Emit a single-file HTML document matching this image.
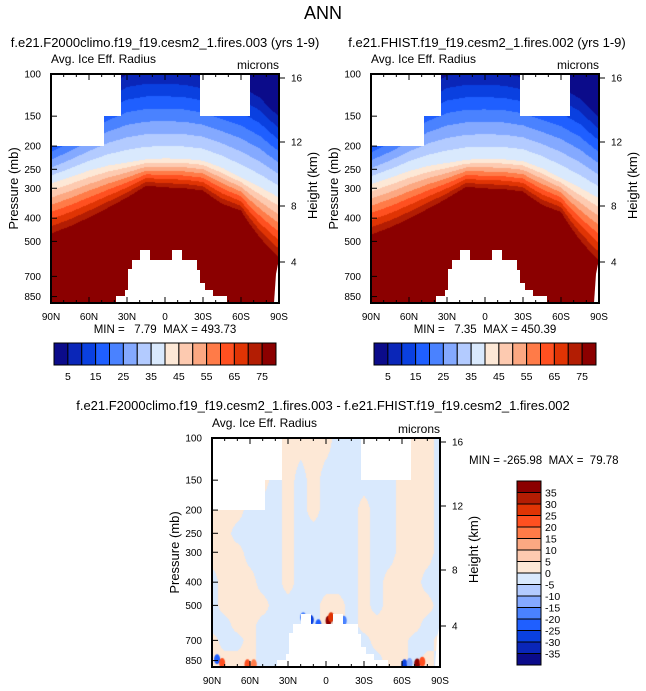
<!DOCTYPE html>
<html><head><meta charset="utf-8"><style>
html,body{margin:0;padding:0;background:#fff;}
#wrap{position:relative;width:646px;height:691px;overflow:hidden;font-family:"Liberation Sans",sans-serif;}
canvas{position:absolute;}
svg{position:absolute;left:0;top:0;}
svg text{white-space:pre;}
</style></head><body>
<div id="wrap">
<canvas id="c1" width="228" height="229" style="left:51px;top:74px"></canvas>
<canvas id="c2" width="228" height="229" style="left:371px;top:74px"></canvas>
<canvas id="c3" width="228" height="229" style="left:212px;top:438px"></canvas>
<svg id="s" width="646" height="691"></svg>
</div>
<script>
// ---- data ----
const lats13 = [90,75,60,45,30,15,0,-15,-30,-45,-60,-75,-90];
const p5A  = [167,150,130,112,100,97,97,98,102,108,112,125,150];
const p40A = [285,268,252,240,233,226,224,225,229,245,269,295,326];
const p75A = [461,430,395,360,326,291,296,298,305,346,370,480,580];
const p5B  = [168,151,131,113,101,98,98,99,103,109,113,126,151];
const p40B = [287,270,253,241,234,227,225,226,230,246,270,297,328];
const p75B = [466,435,400,363,329,294,299,301,308,350,375,490,600];
const lats19 = [90,80,70,60,50,40,30,20,10,0,-10,-20,-30,-40,-50,-60,-70,-80,-90];
const presRows = [100,150,200,250,300,400,500,600,700,850];
const diffSign = [
[1,1,1,1,1,1,1,1,1,1,0,0,0,0,0,0,1,1,0],
[1,1,1,1,1,0,1,0,1,0,0,0,0,0,0,1,1,1,0],
[1,1,1,0,0,0,1,0,1,0,0,0,1,0,0,1,1,1,0],
[1,1,0,0,0,0,1,0,0,0,0,0,1,0,0,1,1,1,0],
[1,1,1,0,0,0,1,0,0,0,0,0,1,0,0,1,1,1,0],
[0,1,1,1,0,0,1,0,0,0,0,0,1,0,1,1,1,0,0],
[0,1,1,1,1,0,0,0,0,1,1,0,1,0,1,1,1,1,0],
[0,0,1,1,0,0,0,0,0,1,1,0,1,1,1,1,1,0,0],
[1,0,0,1,0,0,0,0,0,0,0,0,0,1,1,1,0,0,1],
[1,1,1,1,0,0,0,0,0,0,0,0,0,0,1,1,0,1,0]];
const spotLat = [-2,-4,12,18,-8,-14,6,86,82,62,57,-62,-72,-76,-66];
const spotP   = [580,560,575,560,590,580,600,840,870,880,880,880,875,860,870];
const spotVal = [38,25,-30,-20,-35,-20,-25,-25,20,22,15,-30,38,22,-12];
const cbLabelsTop = [5,15,25,35,45,55,65,75];
const cbLabelsDiff = [35,30,25,20,15,10,5,0,-5,-10,-15,-20,-25,-30,-35];
const pTicks = [100,150,200,250,300,400,500,700,850];
const hTicks = [16,12,8,4];
const hTickPx = {16:4,12:68,8:132,4:188};
const latLabels = ['90N','60N','30N','0','30S','60S','90S'];
const colors=['#0b0b8a','#0a26b8','#0a40e0','#1f5fff','#4a82ff','#84a9ff','#b3cbff','#d9e9fd','#fde8d6','#fdcab0','#fca882','#ff7b48','#ff5020','#e03404','#b31d03','#8b0000'];

// ---- scales ----
const W=228,H=229;
function yOf(p){return 104*Math.log(p/100);}
function xOfLat(l){return (90-l)/180*W;}
function interp(arr,lats,lat){
  for(let i=0;i<lats.length-1;i++){
    if(lat<=lats[i]&&lat>=lats[i+1]){const t=(lats[i]-lat)/(lats[i]-lats[i+1]);return arr[i]+(arr[i+1]-arr[i])*t;}
  }
  return arr[arr.length-1];
}
function drawTop(id,p5,p40,p75){
  const ctx=document.getElementById(id).getContext('2d');
  for(let x=0;x<W;x++){
    const lat=90-180*(x+0.5)/W;
    const y5=yOf(interp(p5,lats13,lat)),y40=yOf(interp(p40,lats13,lat)),y75=yOf(interp(p75,lats13,lat));
    for(let y=0;y<H;y++){
      let v;
      if(y<y40)v=5+35*(y-y5)/(y40-y5);else if(y<y75)v=40+35*(y-y40)/(y75-y40);else v=80;
      const idx=Math.max(0,Math.min(15,Math.floor(v/5)));
      ctx.fillStyle=colors[idx];ctx.fillRect(x,y,1,1);
    }
  }
}
drawTop('c1',p5A,p40A,p75A);
drawTop('c2',p5B,p40B,p75B);
(function(){
  const ctx=document.getElementById('c3').getContext('2d');
  const rowY=presRows.map(yOf);
  for(let x=0;x<W;x++){
    const lat=90-180*(x+0.5)/W;
    const col=diffSign.map(r=>interp(r,lats19,lat));
    for(let y=0;y<H;y++){
      let v;
      if(y<=rowY[0])v=col[0];else if(y>=rowY[rowY.length-1])v=col[col.length-1];
      else{for(let k=0;k<rowY.length-1;k++){if(y>=rowY[k]&&y<rowY[k+1]){const t=(y-rowY[k])/(rowY[k+1]-rowY[k]);v=col[k]+(col[k+1]-col[k])*t;break;}}}
      ctx.fillStyle=v>=0.5?colors[8]:colors[7];ctx.fillRect(x,y,1,1);
    }
  }
  for(let i=0;i<spotLat.length;i++){
    const idx=Math.max(0,Math.min(15,Math.floor(spotVal[i]/5)+8));
    ctx.fillStyle=colors[idx];
    ctx.beginPath();ctx.ellipse(xOfLat(spotLat[i]),yOf(spotP[i]),3,5,0,0,Math.PI*2);ctx.fill();
  }
})();

// ---- svg ----
const NS='http://www.w3.org/2000/svg';
const svg=document.getElementById('s');
function el(tag,attrs,parent){const e=document.createElementNS(NS,tag);for(const k in attrs)e.setAttribute(k,attrs[k]);(parent||svg).appendChild(e);return e;}
function txt(s,attrs,parent){const e=el('text',attrs,parent);e.textContent=s;return e;}

const t0=txt('ANN',{x:323,y:19,'font-size':18,'text-anchor':'middle'});


const maskPolys=[
 '0,0 53,0 53,72 0,72','53,0 70,0 70,42 53,42','149,0 199,0 199,42 149,42',
 '65,229 65,222 74,222 74,216 77,216 77,195 81,195 81,186 89,186 89,176 99,176 99,186 121,186 121,176 131,176 131,186 146,186 146,196 149,196 149,209 154,209 154,216 162,216 162,222 176,222 176,229',
 '228,185 225,200 223,229 228,229'];

function panel(ox,oy,name,title,tx,ty,minmax){
  const g=el('g',{transform:`translate(${ox},${oy})`});
  
  maskPolys.forEach(pt=>{const m=el('polygon',{points:pt,fill:'#fff'},g);});
  const fr=el('rect',{x:0,y:0,width:W,height:H,fill:'none',stroke:'#000','stroke-width':2},g);
  
  for(let l=90;l>=-90;l-=10){
    const x=xOfLat(l),len=(l%30===0)?6:3;
    el('line',{x1:x,y1:0,x2:x,y2:len,stroke:'#000','stroke-width':1},g);
    el('line',{x1:x,y1:H,x2:x,y2:H-len,stroke:'#000','stroke-width':1},g);
  }
  latLabels.forEach((s,i)=>{const t=txt(s,{x:i*38,y:H+17,'font-size':10,'text-anchor':'middle'},g);});
  pTicks.forEach(p=>{
    const y=yOf(p);el('line',{x1:0,y1:y,x2:6,y2:y,stroke:'#000','stroke-width':1},g);
    const t=txt(String(p),{x:-10,y:y+3.5,'font-size':10,'text-anchor':'end'},g);
  });
  hTicks.forEach(h=>{
    const y=hTickPx[h];el('line',{x1:W,y1:y,x2:W+6,y2:y,stroke:'#000','stroke-width':1},g);
    const t=txt(String(h),{x:W+12,y:y+3.5,'font-size':10},g);
  });
  const yl=txt('Pressure (mb)',{x:0,y:0,'font-size':13,'text-anchor':'middle',transform:`translate(-33,${H/2}) rotate(-90)`},g);
  
  const hl=txt('Height (km)',{x:0,y:0,'font-size':13,'text-anchor':'middle',transform:`translate(${W+38},${H/2-3}) rotate(-90)`},g);
  
  const a=txt('Avg. Ice Eff. Radius',{x:0,y:-11,'font-size':12},g);
  const m=txt('microns',{x:W,y:-5,'font-size':12,'text-anchor':'end'},g);
  const tt=txt(title,{x:tx-ox,y:ty-oy,'font-size':13,'text-anchor':'middle'},g);
  if(minmax){const mm=txt(minmax,{x:W/2,y:H+30,'font-size':11.5,'text-anchor':'middle'},g);}
  return g;
}
panel(51,74,'panel-f2000','f.e21.F2000climo.f19_f19.cesm2_1.fires.003 (yrs 1-9)',165,47,'MIN =   7.79  MAX = 493.73');
panel(371,74,'panel-fhist','f.e21.FHIST.f19_f19.cesm2_1.fires.002 (yrs 1-9)',487,47,'MIN =   7.35  MAX = 450.39');
panel(212,438,'panel-difference','f.e21.F2000climo.f19_f19.cesm2_1.fires.003 - f.e21.FHIST.f19_f19.cesm2_1.fires.002',323,410,null);
const mmC=txt('MIN = -265.98  MAX =  79.78',{x:469,y:464,'font-size':11.5});


function hbar(x0,y0,name){
  const g=el('g',{});
  const bw=222/16;
  colors.forEach((c,i)=>{const r=el('rect',{x:x0+i*bw,y:y0,width:bw,height:22,fill:c,stroke:'#000','stroke-width':1},g);});
  cbLabelsTop.forEach((v,i)=>{const t=txt(String(v),{x:x0+(2*i+1)*bw,y:y0+37,'font-size':10.5,'text-anchor':'middle'},g);});
}
hbar(54,343,'colorbar-f2000');
hbar(374,343,'colorbar-fhist');
(function(){
  const g=el('g',{});
  const bh=184/16;
  colors.slice().reverse().forEach((c,i)=>{const r=el('rect',{x:517,y:481+i*bh,width:24,height:bh,fill:c,stroke:'#000','stroke-width':1},g);});
  cbLabelsDiff.forEach((v,i)=>{const t=txt(String(v),{x:545,y:481+(i+1)*bh+4,'font-size':10.5},g);});
})();
</script>
</body></html>
